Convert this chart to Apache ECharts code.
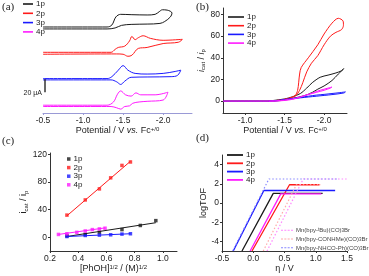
<!DOCTYPE html>
<html><head><meta charset="utf-8">
<script src="https://cdn.jsdelivr.net/npm/echarts/dist/echarts.min.js"></script>
<style>html,body{margin:0;padding:0;background:#fff}#c{width:369px;height:276px}</style>
</head><body><div id="c"></div>
<script>
// ---------- Panel (a): CVs, potential (V vs Fc) / current (uA, relative to own baseline)
var a_offsets = [131, 92, 52, 11];
var a_1p = [[-0.5,1.5],[-1.30,1.5],[-1.36,4.6],[-1.41,17],[-1.47,21],[-1.6,20.5],[-1.8,20],[-1.9,21],[-1.95,25],[-1.99,28],[-2.05,27.5],[-2.11,23],
            [-2.09,17],[-2.02,10],[-1.96,7],[-1.8,6],[-1.6,5.5],[-1.48,4],[-1.40,0],[-1.3,-1.5],[-0.5,-1.5]];
var a_2p = [[-0.5,1.5],[-1.35,1.5],[-1.40,6],[-1.44,9],[-1.52,11],[-1.58,19],[-1.61,26],[-1.65,21],[-1.69,24],[-1.75,27],[-1.84,23],[-2.0,20],[-2.24,21.5],
            [-2.19,17],[-2.0,15],[-1.80,9],[-1.69,7.5],[-1.61,-3],[-1.56,-4.6],[-1.50,-1.5],[-1.42,-1],[-0.5,-1.5]];
var a_3p = [[-0.5,1],[-1.3,1],[-1.36,4],[-1.44,14],[-1.50,21],[-1.56,14],[-1.65,9],[-1.8,8],[-2.0,9],[-2.15,12],[-2.22,14],
            [-2.18,6],[-2.1,4],[-1.8,3.5],[-1.6,3],[-1.52,-3],[-1.47,-8],[-1.42,-4],[-1.35,-1],[-0.5,-1]];
var a_4p = [[-0.5,1],[-1.3,1],[-1.38,6],[-1.43,18],[-1.47,23],[-1.53,17],[-1.6,15],[-1.66,20],[-1.72,17],[-1.9,17],[-2.06,21],
            [-2.0,9],[-1.8,7],[-1.7,6],[-1.62,4],[-1.58,0],[-1.52,-1],[-1.47,-5],[-1.42,-3],[-1.35,-1],[-0.5,-1]];
var a_scalebar = [[-0.525,21],[-0.525,41]];
var a_ticks = [-0.5,-1.0,-1.5,-2.0];

// ---------- Panel (b): i_cat / i_p vs potential
var b_1p = [[-0.72,0],[-1.3,0],[-1.45,0.5],[-1.6,2.5],[-1.75,5],[-1.85,8],[-1.92,11],[-2.0,14],[-2.1,19],[-2.18,25],[-2.25,30],
            [-2.22,28],[-2.15,26],[-2.05,24],[-1.95,22],[-1.85,17],[-1.78,12],[-1.7,7],[-1.6,4],[-1.5,2],[-1.35,0.5],[-1.3,0]];
var b_2p = [[-0.72,0],[-1.3,0],[-1.45,1],[-1.55,2.5],[-1.63,5],[-1.665,10],[-1.69,25],[-1.71,31],[-1.8,40],[-1.92,52],[-2.0,62],[-2.1,72],[-2.18,76.5],[-2.24,74],[-2.245,70],
            [-2.22,66],[-2.15,63.5],[-2.08,60],[-2.0,52],[-1.92,42],[-1.84,35],[-1.78,27],[-1.73,17],[-1.69,10],[-1.64,5],[-1.55,2.5],[-1.45,1],[-1.3,0]];
var b_3p = [[-0.72,0],[-1.3,0],[-1.4,0.5],[-1.5,1.5],[-1.6,2.5],[-1.7,3.5],[-1.8,4.5],[-1.9,5.5],[-2.0,6.2],[-2.1,7],[-2.2,7.8],[-2.27,8.5],
            [-2.25,7.5],[-2.1,6],[-1.9,4.5],[-1.7,3],[-1.5,1.2],[-1.4,0.3],[-1.3,0]];
var b_4p = [[-0.72,0],[-1.3,0],[-1.45,0.3],[-1.55,1],[-1.65,2.5],[-1.75,5],[-1.85,7.5],[-1.95,10],[-2.05,12],[-2.1,13],
            [-2.08,12],[-2.0,10],[-1.9,8],[-1.8,6],[-1.7,4],[-1.6,2],[-1.5,1],[-1.4,0.2],[-1.3,0]];
var b_xticks = [-1.0,-1.5,-2.0];
var b_yticks = [0,20,40,60,80];

// ---------- Panel (c): i_cat / i_p vs [PhOH]^1/2
var c_1p = [[0.32,2],[0.45,4],[0.55,7],[0.71,11],[0.84,17],[0.95,24]];
var c_2p = [[0.32,32],[0.45,54],[0.55,70],[0.63,86],[0.71,104],[0.77,109]];
var c_3p = [[0.32,1],[0.45,2.5],[0.55,3],[0.63,3.5],[0.71,4.5],[0.77,5]];
var c_4p = [[0.26,4],[0.32,5],[0.39,7],[0.45,9],[0.50,11],[0.55,12],[0.59,13]];
var c_fit1 = [[0.32,1],[0.95,21]];
var c_fit2 = [[0.32,31],[0.77,110]];
var c_fit3 = [[0.32,1],[0.77,5]];
var c_fit4 = [[0.26,4],[0.59,13.5]];
var c_xticks = [0.2,0.4,0.6,0.8,1.0];
var c_yticks = [0,40,80,120];

// ---------- Panel (d): logTOF vs overpotential
var d_1p = [[-0.18,-5],[0.32,1.0],[1.11,1.0]];
var d_2p = [[-0.02,-5],[0.58,1.9],[1.06,1.9]];
var d_3p = [[-0.32,-5],[0.17,1.3],[1.31,1.3]];
var d_4p = [[-0.05,-5],[0.44,0.95],[1.09,0.95]];
var d_tBu = [[0.22,-5],[0.80,2.5],[1.5,2.5]];
var d_CONHMe = [[0.16,-5],[0.69,1.9],[1.08,1.9]];
var d_NHCOPh = [[-0.33,-5],[0.25,2.5],[1.37,2.5]];
var d_xticks = [-0.5,0,0.5,1.0,1.5];
var d_yticks = [-4,-2,0,2,4];

var names = ['1p','2p','3p','4p'];
var colors = ['#1a1a1a','#ff1a1a','#1a1aff','#ff1aff'];
var FONT = 'Liberation Sans';
var TXT = '#222';
var AXC = '#333';
var DOTTED_ICON = 'path://M0,0h2v1h-2zM3.3,0h2v1h-2zM6.6,0h2v1h-2zM9.9,0h2v1h-2z';

function offsetData(arr, off){ return arr.map(function(p){ return [p[0], p[1]+off]; }); }
function fmt1(v){ return (Math.round(v*10)/10).toFixed(1); }
function fmt0(v){ return String(Math.round(v)); }

var rich = {
  i:{fontStyle:'italic', fontFamily:FONT, fontSize:9, color:TXT},
  sup:{fontSize:6, fontFamily:FONT, verticalAlign:'top', color:TXT, padding:[0,0,4,0]},
  sub:{fontSize:6, fontFamily:FONT, verticalAlign:'bottom', color:TXT, padding:[4,0,0,0]}
};

function xAxisCfg(grid, min, max, ticks, fmt, name, gap, inverse, lineColor){
  return {
    type:'value', gridIndex:grid, min:min, max:max, inverse:!!inverse,
    axisLine:{show:true, onZero:false, lineStyle:{color:lineColor||AXC, width:1}},
    axisTick:{show:true, length:2, inside:false, customValues:ticks, lineStyle:{color:lineColor||AXC}},
    axisLabel:{customValues:ticks, formatter:fmt, fontSize:8.5, fontFamily:FONT, color:TXT, margin:3},
    splitLine:{show:false},
    name:name, nameLocation:'middle', nameGap:gap,
    nameTextStyle:{fontSize:9, fontFamily:FONT, color:TXT, rich:rich}
  };
}
function yAxisCfg(grid, min, max, ticks, fmt, name, gap){
  return {
    type:'value', gridIndex:grid, min:min, max:max,
    axisLine:{show:true, onZero:false, lineStyle:{color:AXC, width:1}},
    axisTick:{show:true, length:2, inside:false, customValues:ticks, lineStyle:{color:AXC}},
    axisLabel:{customValues:ticks, formatter:fmt, fontSize:8.5, fontFamily:FONT, color:TXT, margin:3},
    splitLine:{show:false},
    name:name, nameLocation:'middle', nameGap:gap,
    nameTextStyle:{fontSize:9, fontFamily:FONT, color:TXT, rich:rich}
  };
}

var series = [];
var aData = [a_1p, a_2p, a_3p, a_4p];
var bData = [b_1p, b_2p, b_3p, b_4p];
var cData = [c_1p, c_2p, c_3p, c_4p];
var cFit = [c_fit1, c_fit2, c_fit3, c_fit4];
var dData = [d_1p, d_2p, d_3p, d_4p];

for (var k=0;k<4;k++){
  series.push({type:'line', name:'a'+names[k], xAxisIndex:0, yAxisIndex:0, data:offsetData(aData[k], a_offsets[k]),
    symbol:'none', lineStyle:{color:colors[k], width:1}, itemStyle:{color:colors[k]}, smooth:0.35, silent:true});
}
series.push({type:'line', name:'scalebar', xAxisIndex:0, yAxisIndex:0, data:offsetData(a_scalebar, a_offsets[3]),
  symbol:'none', lineStyle:{color:'#000', width:1.2}, silent:true});

for (k=0;k<4;k++){
  series.push({type:'line', name:'b'+names[k], xAxisIndex:1, yAxisIndex:1, data:bData[k],
    symbol:'none', lineStyle:{color:colors[k], width:1}, itemStyle:{color:colors[k]}, smooth:0.3, silent:true});
}
for (k=0;k<4;k++){
  series.push({type:'line', name:'cfit'+names[k], xAxisIndex:2, yAxisIndex:2, data:cFit[k],
    symbol:'none', lineStyle:{color:colors[k], width:1}, silent:true});
  series.push({type:'scatter', name:'c'+names[k], xAxisIndex:2, yAxisIndex:2, data:cData[k],
    symbol:'rect', symbolSize:3.5, itemStyle:{color:colors[k]}, silent:true});
}
for (k=0;k<4;k++){
  series.push({type:'line', name:'d'+names[k], xAxisIndex:3, yAxisIndex:3, data:dData[k],
    symbol:'none', lineStyle:{color:colors[k], width:1.3}, itemStyle:{color:colors[k]}, silent:true});
}
var dRefNames = ['Mn(bpy-tBu)(CO)3Br','Mn(bpy-CONHMe)(CO)3Br','Mn(bpy-NHCO-Ph)(CO)3Br'];
var dRefData = [d_tBu, d_CONHMe, d_NHCOPh];
var dRefColors = ['#ff88ff','#ffaaaa','#8888ff'];
for (k=0;k<3;k++){
  series.push({type:'line', name:dRefNames[k], xAxisIndex:3, yAxisIndex:3, data:dRefData[k],
    symbol:'none', lineStyle:{color:dRefColors[k], width:1.2, type:[1.5,2]}, itemStyle:{color:dRefColors[k]}, silent:true});
}

function legendCfg(prefix, left, top, iconW, iconH, icon, gap){
  return {
    data: names.map(function(n){return {name:prefix+n, icon:icon};}),
    formatter:function(n){return n.slice(prefix.length);},
    orient:'vertical', left:left, top:top, itemWidth:iconW, itemHeight:iconH, itemGap:gap,
    textStyle:{fontSize:8, lineHeight:8, fontFamily:FONT, color:TXT, padding:[0,0,0,-2]}, selectedMode:false, padding:0
  };
}

var option = {
  animation:false,
  backgroundColor:'#fff',
  grid:[
    {left:43, top:2, width:149, height:111},
    {left:223, top:8, width:124, height:105},
    {left:50, top:153, width:127, height:98},
    {left:222, top:155, width:125, height:96}
  ],
  xAxis:[
    xAxisCfg(0, -2.36, -0.5, a_ticks, fmt1, 'Potential / V {i|vs.} Fc{sup|+/0}', 12, true, '#9a9ad6'),
    xAxisCfg(1, -2.29, -0.72, b_xticks, fmt1, 'Potential / V {i|vs.} Fc{sup|+/0}', 12, true),
    xAxisCfg(2, 0.2, 1.1, c_xticks, fmt1, '[PhOH]{sup|1/2} / (M){sup|1/2}', 13, false),
    xAxisCfg(3, -0.5, 1.5, d_xticks, fmt1, 'η / V', 12, false)
  ],
  yAxis:[
    {type:'value', gridIndex:0, min:0, max:171, show:false},
    yAxisCfg(1, -11, 86, b_yticks, fmt0, '{i|i}{sub|cat} / {i|i}{sub|p}', 14),
    yAxisCfg(2, -20, 122, c_yticks, fmt0, 'i{sub|cat} / i{sub|p}', 16),
    yAxisCfg(3, -5, 5, d_yticks, fmt0, 'logTOF', 12)
  ],
  legend:[
    legendCfg('a', 23, 0, 10, 1.6, 'rect', 1.3),
    legendCfg('b', 228, 13, 16, 1.6, 'rect', 0.7),
    legendCfg('c', 67, 155, 3.5, 3.5, 'rect', 0.6),
    legendCfg('d', 227, 151, 16, 1.8, 'rect', 0.3),
    {
      data:dRefNames.map(function(n){return {name:n, icon:DOTTED_ICON};}), orient:'vertical', left:281, top:227, itemWidth:12, itemHeight:1.2, itemGap:2.3, padding:0, selectedMode:false,
      formatter:function(n){
        if(n.indexOf('tBu')>=0) return 'Mn(bpy-{sup|t}Bu)(CO){sub|3}Br';
        if(n.indexOf('CONHMe')>=0) return 'Mn(bpy-CONHMe)(CO){sub|3}Br';
        return 'Mn(bpy-NHCO-Ph)(CO){sub|3}Br';
      },
      textStyle:{fontSize:6, lineHeight:6.5, fontFamily:FONT, color:'#444', padding:[0,0,0,-2],
        rich:{sup:{fontSize:4.5, verticalAlign:'top', color:'#444'}, sub:{fontSize:4.5, verticalAlign:'bottom', color:'#444'}}}
    }
  ],
  graphic:[
    {type:'text', left:2, top:2, style:{text:'(a)', font:'11px "Liberation Serif"', fill:'#222'}},
    {type:'text', left:196, top:2, style:{text:'(b)', font:'11px "Liberation Serif"', fill:'#222'}},
    {type:'text', left:2, top:136, style:{text:'(c)', font:'11px "Liberation Serif"', fill:'#222'}},
    {type:'text', left:196, top:133, style:{text:'(d)', font:'11px "Liberation Serif"', fill:'#222'}},
    {type:'text', x:42, y:93, style:{text:'20 μA', font:'7px "Liberation Sans"', fill:'#222', align:'right', verticalAlign:'middle'}}
  ],
  series:series
};

var chart = echarts.init(document.getElementById('c'), null, {renderer:'canvas'});
chart.setOption(option);
</script></body></html>
